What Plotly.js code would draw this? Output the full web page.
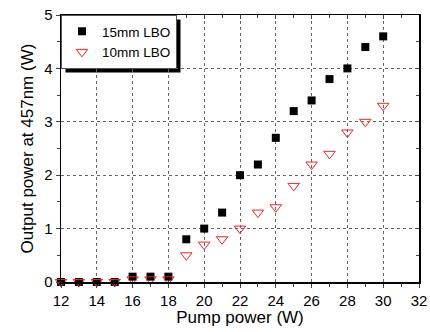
<!DOCTYPE html>
<html>
<head>
<meta charset="utf-8">
<script src="https://cdn.plot.ly/plotly-3.0.1.min.js"></script>
<style>html,body{margin:0;padding:0;background:#fff;}#chart{width:430px;height:332px;}</style>
</head>
<body>
<div id="chart"></div>
<script>
var pumpPower = [12,13,14,15,16,17,18,19,20,21,22,23,24,25,26,27,28,29,30];
var lbo15 = [0,0,0,0,0.1,0.1,0.1,0.8,1.0,1.3,2.0,2.2,2.7,3.2,3.4,3.8,4.0,4.4,4.6];
var lbo10 = [0,0,0,0,0.05,0.05,0.05,0.5,0.7,0.8,1.0,1.3,1.4,1.8,2.2,2.4,2.8,3.0,3.3];
var seriesNames = ['15mm LBO','10mm LBO'];
var xTicks = [12,14,16,18,20,22,24,26,28,30,32];
var yTicks = [0,1,2,3,4,5];

var font = '"Liberation Sans", Arial, sans-serif';
var traces = [
  {x: pumpPower, y: lbo15, name: seriesNames[0], type:'scatter', mode:'markers', cliponaxis:false,
   marker:{symbol:'square', size:8, color:'#000'}},
  {x: pumpPower, y: lbo10, name: seriesNames[1], type:'scatter', mode:'markers', cliponaxis:false,
   marker:{symbol:'triangle-down-open', size:10, color:'#e02828', line:{width:1}}}
];
var layout = {
  width:430, height:332,
  margin:{l:61, r:11, t:15, b:50},
  paper_bgcolor:'#fff', plot_bgcolor:'#fff',
  font:{family:font, size:15, color:'#000'},
  showlegend:true,
  legend:{x:0, y:1, xanchor:'left', yanchor:'top', bgcolor:'#fff', bordercolor:'#555', borderwidth:1,
          font:{size:13.5}, itemwidth:30, tracegroupgap:0, traceorder:'normal',
          entrywidth:115, entrywidthmode:'pixels'},
  xaxis:{range:[12,32], tickvals:xTicks, ticktext:xTicks.map(String), ticks:'outside', ticklen:4, tickwidth:1,
         showline:true, linecolor:'#000', linewidth:1.5, zeroline:false,
         showgrid:true, gridcolor:'#666', griddash:'dot', gridwidth:1,
         minor:{dtick:1, ticks:'outside', ticklen:3, showgrid:false},
         title:{text:'Pump power (W)', font:{size:17}, standoff:2}},
  yaxis:{range:[0,5], tickvals:yTicks, ticktext:yTicks.map(String), ticks:'outside', ticklen:4, tickwidth:1,
         showline:true, linecolor:'#000', linewidth:1.5, zeroline:false,
         showgrid:true, gridcolor:'#666', griddash:'dot', gridwidth:1,
         minor:{dtick:0.5, ticks:'outside', ticklen:3, showgrid:false},
         title:{text:'Output power at 457nm (W)', font:{size:17}, standoff:6}},
  xaxis2:{range:[12,32], overlaying:'x', side:'top', anchor:'y', tickvals:xTicks, showticklabels:false,
          ticks:'inside', ticklen:4, showline:true, linecolor:'#000', linewidth:1.5, showgrid:false, zeroline:false,
          minor:{dtick:1, ticks:'inside', ticklen:3}},
  yaxis2:{range:[0,5], overlaying:'y', side:'right', anchor:'x', tickvals:yTicks, showticklabels:false,
          ticks:'inside', ticklen:4, showline:true, linecolor:'#000', linewidth:1.5, showgrid:false, zeroline:false,
          minor:{dtick:0.5, ticks:'inside', ticklen:3}}
};
traces.push({x:[], y:[], xaxis:'x2', yaxis:'y2', showlegend:false, hoverinfo:'skip'});
Plotly.newPlot('chart', traces, layout, {displayModeBar:false, staticPlot:true}).then(function(gd){
  var bg = gd.querySelector('.legend .bg');
  if (!bg) return;
  var r = bg.getBoundingClientRect();
  var c = gd.getBoundingClientRect();
  var fl = gd._fullLayout, sz = fl._size;
  var off = 4;
  function px(x){ return (x - c.left - sz.l) / sz.w; }
  function py(y){ return 1 - (y - c.top - sz.t) / sz.h; }
  return Plotly.relayout(gd, {shapes:[
    {type:'rect', xref:'paper', yref:'paper',
     x0:px(r.left+off), x1:px(r.right+off), y0:py(r.bottom+off), y1:py(r.top+off),
     fillcolor:'#000', line:{width:0}, layer:'below'}
  ]});
});
</script>
</body>
</html>
